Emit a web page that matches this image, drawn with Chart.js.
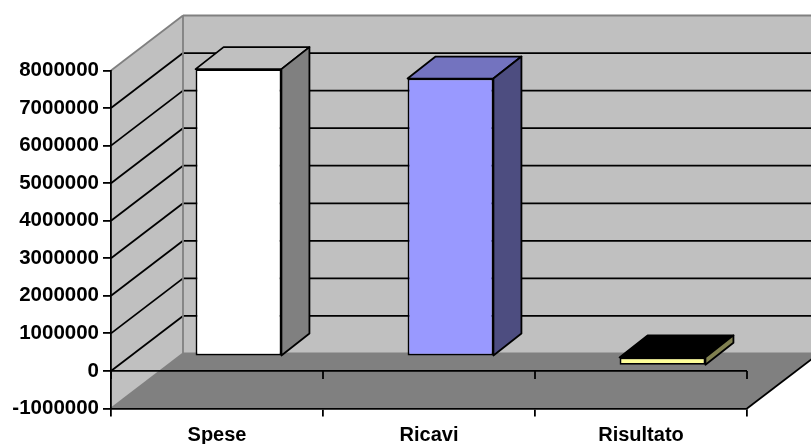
<!DOCTYPE html>
<html>
<head>
<meta charset="utf-8">
<style>
  html, body { margin: 0; padding: 0; background: #fff; }
  canvas { display: block; }
</style>
</head>
<body>
<canvas id="myChart" width="811" height="444"></canvas>
<script src="https://cdn.jsdelivr.net/npm/chart.js@4"></script>
<script>
'use strict';
const categories = ['Spese', 'Ricavi', 'Risultato'];
const values = [7650000, 7400000, -220000];
const yTickValues = [-1000000, 0, 1000000, 2000000, 3000000, 4000000, 5000000, 6000000, 7000000, 8000000];
const yTickLabels = ['-1000000', '0', '1000000', '2000000', '3000000', '4000000', '5000000', '6000000', '7000000', '8000000'];

const frontColors = ['#ffffff', '#9999ff', '#ffff99'];
const topColors = ['#c0c0c0', '#7373bf', '#000000'];
const sideColors = ['#808080', '#4d4d80', '#808050'];

const WALL = '#c0c0c0';
const FLOOR = '#808080';
const EDGE = '#808080';
const LINE_W = 1.8;
// depth of the whole box and of one bar
const boxX = 72, boxY = -55;
const barX = 28, barY = -22;
const barShiftX = 21.5, barShiftY = -14.5;

function poly(ctx, pts, fill, stroke) {
  ctx.beginPath();
  ctx.moveTo(pts[0][0], pts[0][1]);
  for (let i = 1; i < pts.length; i++) ctx.lineTo(pts[i][0], pts[i][1]);
  ctx.closePath();
  if (fill) { ctx.fillStyle = fill; ctx.fill(); }
  if (stroke) { ctx.strokeStyle = stroke; ctx.lineWidth = LINE_W; ctx.lineJoin = 'round'; ctx.stroke(); }
}

function seg(ctx, x1, y1, x2, y2, color) {
  ctx.beginPath();
  ctx.moveTo(x1, y1);
  ctx.lineTo(x2, y2);
  ctx.strokeStyle = color;
  ctx.lineWidth = LINE_W;
  ctx.stroke();
}

const box3d = {
  id: 'box3d',
  beforeDraw(chart) {
    const ctx = chart.ctx;
    const a = chart.chartArea;
    const y = chart.scales.y;
    const W = chart.width;
    const top = y.getPixelForValue(8000000), bot = y.getPixelForValue(-1000000);
    ctx.save();
    // walls
    poly(ctx, [[a.left + boxX, top + boxY], [W + 2, top + boxY], [W + 2, bot + boxY], [a.left + boxX, bot + boxY]], WALL);
    poly(ctx, [[a.left, top], [a.left + boxX, top + boxY], [a.left + boxX, bot + boxY], [a.left, bot]], WALL);
    // floor
    poly(ctx, [[a.left, bot], [a.right, bot], [a.right + boxX, bot + boxY], [a.left + boxX, bot + boxY]], FLOOR);
    // grid lines, side wall and back wall
    yTickValues.forEach(v => {
      if (v === 8000000 || v === -1000000) return;
      const p = y.getPixelForValue(v);
      seg(ctx, a.left, p, a.left + boxX, p + boxY, '#000');
      seg(ctx, a.left + boxX, p + boxY, W + 2, p + boxY, '#000');
    });
    // wall edges
    seg(ctx, a.left, top, a.left + boxX, top + boxY, EDGE);
    seg(ctx, a.left + boxX, top + boxY, W + 2, top + boxY, EDGE);
    seg(ctx, a.left + boxX, top + boxY, a.left + boxX, bot + boxY, EDGE);
    seg(ctx, a.left, bot, a.left + boxX, bot + boxY, EDGE);
    seg(ctx, a.left + boxX, bot + boxY, W + 2, bot + boxY, EDGE);
    seg(ctx, a.right, bot, a.right + boxX, bot + boxY, '#000');
    ctx.restore();
  },
  beforeDatasetsDraw(chart) {
    const ctx = chart.ctx;
    const a = chart.chartArea;
    const x = chart.scales.x;
    const zero = chart.scales.y.getPixelForValue(0);
    // axis at zero, with its ticks
    seg(ctx, a.left, zero, a.right, zero, '#000');
    const half = (x.getPixelForValue(1) - x.getPixelForValue(0)) / 2;
    seg(ctx, a.left, zero, a.left, zero + 8, '#000');
    categories.forEach((c, i) => {
      const px = x.getPixelForValue(i) + half;
      seg(ctx, px, zero, px, zero + 8, '#000');
    });
    // bars stand in the middle of the depth: shift them, then draw the faces behind
    ctx.save();
    ctx.translate(barShiftX, barShiftY);
    chart.getDatasetMeta(0).data.forEach((bar, i) => {
      const p = bar.getProps(['x', 'y', 'base', 'width'], true);
      const l = p.x - p.width / 2, r = p.x + p.width / 2;
      const t = Math.min(p.y, p.base), b = Math.max(p.y, p.base);
      poly(ctx, [[l, t], [r, t], [r + barX, t + barY], [l + barX, t + barY]], topColors[i], '#000');
      poly(ctx, [[r, t], [r + barX, t + barY], [r + barX, b + barY], [r, b]], sideColors[i], '#000');
    });
  },
  afterDatasetsDraw(chart) {
    chart.ctx.restore();
  }
};

new Chart(document.getElementById('myChart'), {
  type: 'bar',
  data: {
    labels: categories,
    datasets: [{
      data: values,
      backgroundColor: frontColors,
      borderColor: '#000',
      borderWidth: LINE_W,
      borderSkipped: false,
      barPercentage: 0.405,
      categoryPercentage: 1,
      clip: false
    }]
  },
  plugins: [box3d],
  options: {
    responsive: false,
    animation: false,
    devicePixelRatio: 1,
    layout: { padding: { top: 70.5, right: 64, left: 0, bottom: 0 } },
    plugins: { legend: { display: false }, tooltip: { enabled: false } },
    scales: {
      x: {
        afterFit(s) { s.height = 35.5; },
        grid: { drawOnChartArea: false, color: '#000', tickLength: 8, lineWidth: LINE_W },
        border: { color: '#000', width: LINE_W },
        ticks: { color: '#000', padding: 7, maxRotation: 0, font: { family: '"Liberation Sans", Arial, sans-serif', size: 20, weight: 'bold' } }
      },
      y: {
        min: -1000000,
        max: 8000000,
        afterFit(s) { s.width = 111; },
        grid: { drawOnChartArea: false, color: '#000', tickLength: 8, lineWidth: LINE_W },
        border: { color: '#000', width: LINE_W },
        ticks: {
          stepSize: 1000000,
          color: '#000',
          padding: 4,
          autoSkip: false,
          font: { family: '"Liberation Sans", Arial, sans-serif', size: 20.5, weight: 'bold' },
          callback: (v, i) => yTickLabels[i]
        }
      }
    }
  }
});
</script>
</body>
</html>
